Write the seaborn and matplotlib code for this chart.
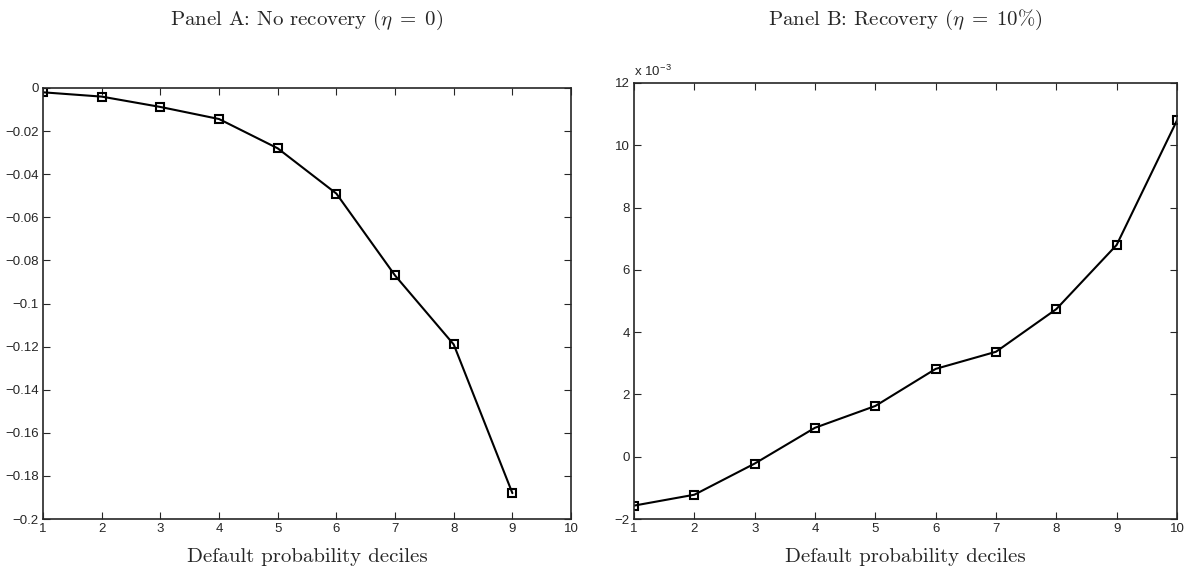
import numpy as np
import pandas as pd
import matplotlib
matplotlib.use("Agg")
import matplotlib.pyplot as plt
import seaborn as sns
from matplotlib.ticker import FuncFormatter

# ----------------------------------------------------------------------
# Data
# ----------------------------------------------------------------------
deciles_a = [1, 2, 3, 4, 5, 6, 7, 8, 9]
values_a = [-0.002, -0.004, -0.0088, -0.0144, -0.028, -0.049, -0.087, -0.119, -0.188]

deciles_b = [1, 2, 3, 4, 5, 6, 7, 8, 9, 10]
values_b = [-1.57, -1.22, -0.22, 0.93, 1.63, 2.82, 3.37, 4.74, 6.80, 10.8]  # x 10^-3

titles = ["Panel A: No recovery ($\\eta\\;=\\;0$)", "Panel B: Recovery ($\\eta\\;=\\;10\\%$)"]
xlabel = "Default probability deciles"

# ----------------------------------------------------------------------
# Style
# ----------------------------------------------------------------------
sns.set_style("ticks")
plt.rcParams["font.family"] = ["Liberation Sans", "DejaVu Sans"]
plt.rcParams["mathtext.fontset"] = "cm"
SERIF = ["cmr10", "DejaVu Serif"]

fig = plt.figure(figsize=(11.86, 5.77), dpi=100)
ax_a = fig.add_axes([0.0363, 0.1005, 0.4452, 0.7470])
ax_b = fig.add_axes([0.5346, 0.1005, 0.4578, 0.7557])

df_a = pd.DataFrame({"decile": deciles_a, "value": values_a})
df_b = pd.DataFrame({"decile": deciles_b, "value": values_b})

for ax, df in [(ax_a, df_a), (ax_b, df_b)]:
    sns.lineplot(data=df, x="decile", y="value", ax=ax, color="black",
                 linewidth=1.5, marker="s", markersize=5.5,
                 markerfacecolor="none", markeredgecolor="black",
                 markeredgewidth=1.5)
    ax.set_xlim(1, 10)
    ax.set_xticks(range(1, 11))
    ax.tick_params(direction="in", top=True, right=True, labelsize=9.5,
                   length=5, width=0.8, pad=3)
    for s in ax.spines.values():
        s.set_visible(True)
        s.set_linewidth(1.2)
    ax.set_xlabel("")
    ax.set_ylabel("")
    ax.grid(False)


def matlab_fmt(v, pos):
    v = round(v, 6) + 0.0
    return ("%g" % v).replace("-", "\u2212")


fmt = FuncFormatter(matlab_fmt)

ax_a.set_ylim(-0.2, 0)
ax_a.set_yticks(np.arange(-0.2, 0.001, 0.02))
ax_a.yaxis.set_major_formatter(fmt)
ax_a.xaxis.set_major_formatter(fmt)

ax_b.set_ylim(-2, 12)
ax_b.set_yticks(np.arange(-2, 13, 2))
ax_b.yaxis.set_major_formatter(fmt)
ax_b.xaxis.set_major_formatter(fmt)
ax_b.text(0.0, 1.01, "x 10$^{\\mathregular{\u22123}}$", transform=ax_b.transAxes,
          fontsize=9.5, ha="left", va="bottom")

# titles and x labels in serif
for ax, t in [(ax_a, titles[0]), (ax_b, titles[1])]:
    cx = ax.get_position().x0 + ax.get_position().width / 2
    fig.text(cx, 0.965, t, ha="center", va="center", fontsize=15, family=SERIF)
    fig.text(cx, 0.035, xlabel, ha="center", va="center", fontsize=15, family=SERIF)

fig.savefig("out.png", dpi=100)
